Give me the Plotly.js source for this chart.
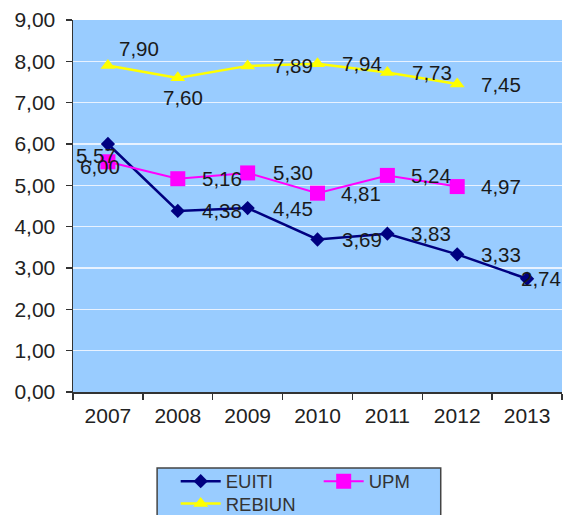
<!DOCTYPE html>
<html>
<head>
<meta charset="utf-8">
<script src="https://cdn.plot.ly/plotly-3.0.1.min.js"></script>
<style>html,body{margin:0;padding:0;background:#fff;}#chart{width:563px;height:515px;}</style>
</head>
<body>
<div id="chart"></div>
<script>
const years = ['2007','2008','2009','2010','2011','2012','2013'];
const euiti = [6.00, 4.38, 4.45, 3.69, 3.83, 3.33, 2.74];
const upm = [5.57, 5.16, 5.30, 4.81, 5.24, 4.97];
const rebiun = [7.90, 7.60, 7.89, 7.94, 7.73, 7.45];
const yTicks = [0,1,2,3,4,5,6,7,8,9];

// label offsets (px, right / up) – style only
const offEuiti = [[-8,-22],[44,0],[45,0],[44,0],[44,0],[44,0],[14,0]];
const offUpm = [[-12,6],[44,0],[45,0],[43,0],[44,0],[44,0]];
const offRebiun = [[31,17],[5,-20],[45,0],[44,0],[45,0],[44,0]];

const fmt = v => v.toFixed(2).replace('.', ',');
const FONT = 'Liberation Sans, Arial, sans-serif';

const traces = [
  {x: years.slice(0, euiti.length), y: euiti, name: 'EUITI', type: 'scatter', mode: 'lines+markers',
   line: {color: '#000080', width: 2.5}, marker: {symbol: 'diamond', size: 11, color: '#000080'}, legend: 'legend'},
  {x: years.slice(0, upm.length), y: upm, name: 'UPM', type: 'scatter', mode: 'lines+markers',
   line: {color: '#FF00FF', width: 2}, marker: {symbol: 'square', size: 15, color: '#FF00FF'}, legend: 'legend'},
  {x: years.slice(0, rebiun.length), y: rebiun, name: 'REBIUN', type: 'scatter', mode: 'lines+markers',
   line: {color: '#FFFF00', width: 2.5}, marker: {symbol: 'triangle-up', size: 13, color: '#FFFF00'}, legend: 'legend2'}
];

const annotations = [];
function addLabels(vals, offs) {
  vals.forEach((v, i) => {
    annotations.push({x: i, y: v, xref: 'x', yref: 'y', text: fmt(v), showarrow: false,
      xshift: offs[i][0], yshift: offs[i][1], font: {family: FONT, size: 20.5, color: '#1a1a1a'}});
  });
}
addLabels(rebiun, offRebiun);
addLabels(upm, offUpm);
addLabels(euiti, offEuiti);

const layout = {
  width: 563, height: 515,
  margin: {l: 73, r: 1, t: 20, b: 123, autoexpand: false},
  paper_bgcolor: '#ffffff',
  plot_bgcolor: '#99CCFF',
  separators: ',.',
  font: {family: FONT, size: 21, color: '#222'},
  showlegend: true,
  xaxis: {type: 'category', categoryorder: 'array', categoryarray: years, range: [-0.5, 6.5],
    showgrid: false, zeroline: false, showline: true, linecolor: '#333', linewidth: 1.5,
    ticks: 'outside', ticklen: 6, tickcolor: '#333', tickwidth: 1.5, tickson: 'boundaries', ticklabelstandoff: 4,
    tickfont: {family: FONT, size: 21, color: '#222'}, fixedrange: true},
  yaxis: {range: [0, 9], tickvals: yTicks, tickformat: '.2f', showgrid: true, gridcolor: '#E8F2FF', gridwidth: 1.5,
    zeroline: false, showline: true, linecolor: '#333', linewidth: 1.5,
    ticks: 'outside', ticklen: 6, tickcolor: '#333', tickwidth: 1.5, ticklabelstandoff: 6,
    tickfont: {family: FONT, size: 21, color: '#222'}, fixedrange: true},
  legend: {orientation: 'h', x: 0.21, xanchor: 'left', y: -0.19, yanchor: 'top', xref: 'paper', yref: 'paper',
    bgcolor: 'rgba(0,0,0,0)', borderwidth: 0, font: {family: FONT, size: 18.5, color: '#333'}, entrywidth: 88, itemwidth: 40},
  legend2: {orientation: 'h', x: 0.21, xanchor: 'left', y: -0.25, yanchor: 'top', xref: 'paper', yref: 'paper',
    bgcolor: 'rgba(0,0,0,0)', borderwidth: 0, font: {family: FONT, size: 18.5, color: '#333'}, itemwidth: 40},
  shapes: [{type: 'rect', xref: 'paper', yref: 'paper', x0: 0.172, x1: 0.752, y0: -0.204, y1: -0.40,
    fillcolor: '#99CCFF', line: {color: '#444', width: 1.5}, layer: 'below'}],
  annotations: annotations
};

Plotly.newPlot('chart', traces, layout, {displayModeBar: false, staticPlot: true});
</script>
</body>
</html>
